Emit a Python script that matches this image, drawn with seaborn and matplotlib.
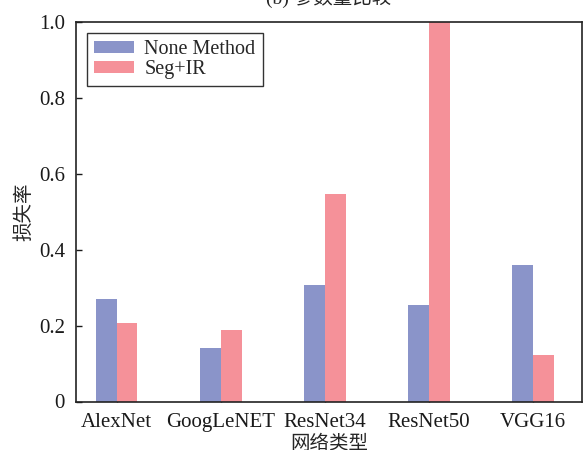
import seaborn as sns
import matplotlib.pyplot as plt
import pandas as pd

networks = ["AlexNet", "GoogLeNET", "ResNet34", "ResNet50", "VGG16"]
none_method = [0.270, 0.141, 0.307, 0.254, 0.360]
seg_ir = [0.207, 0.189, 0.548, 1.0, 0.122]
methods = ["None Method", "Seg+IR"]

df = pd.DataFrame({
    "network": networks * 2,
    "loss": none_method + seg_ir,
    "method": [methods[0]] * len(networks) + [methods[1]] * len(networks),
})

sns.set_theme(style="white")
plt.rcParams['font.family'] = ['Liberation Serif', 'Noto Sans CJK SC']
plt.rcParams['xtick.direction'] = 'in'
plt.rcParams['ytick.direction'] = 'in'

fig = plt.figure(figsize=(5.84, 4.5), dpi=100)
ax = fig.add_axes([76 / 584, 1 - 401.5 / 450, (582 - 76) / 584, (401.5 - 22) / 450])

sns.barplot(data=df, x="network", y="loss", hue="method", width=0.4,
            palette=["#8a94c9", "#f59199"], saturation=1, linewidth=0, ax=ax)

ax.set_ylim(0, 1.0)
ax.set_xlim(-0.39, 4.47)
ax.set_yticks([0, 0.2, 0.4, 0.6, 0.8, 1.0])
ax.set_yticklabels(["0", "0.2", "0.4", "0.6", "0.8", "1.0"])
ax.tick_params(axis='both', labelsize=15, colors='#1a1a1a', length=4, width=1,
               left=True, bottom=True)
ax.tick_params(axis='y', pad=8)
ax.tick_params(axis='x', pad=8)
ax.set_xlabel("网络类型", fontsize=14, labelpad=2)
ax.set_ylabel("损失率", fontsize=14, labelpad=4)
for s in ax.spines.values():
    s.set_color('#222222')
    s.set_linewidth(1.2)

leg = ax.legend(loc='upper left', fontsize=14.5, frameon=True, fancybox=False,
                edgecolor='#333333', framealpha=1, borderpad=0.35,
                handlelength=2.0, handleheight=0.55, labelspacing=0.05,
                handletextpad=0.5, borderaxespad=0.55)
leg.get_frame().set_linewidth(1.0)
leg.set_title(None)

fig.text(0.5634, 1.004, "(b) 参数量比较", fontsize=14, ha='center', va='center')

fig.savefig("out.png", dpi=100)
